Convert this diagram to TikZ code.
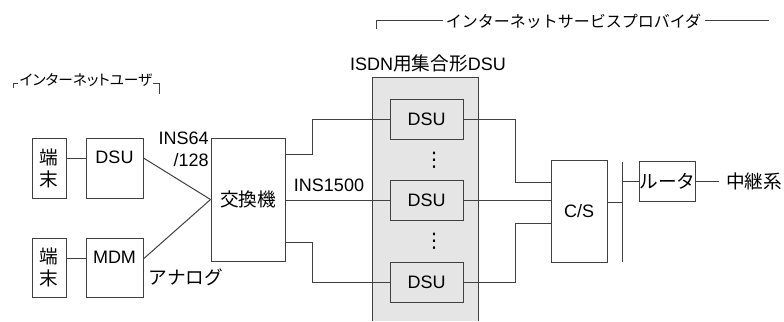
\documentclass[tikz,border=0pt]{standalone}
\usepackage{fontspec}
\setmainfont{Liberation Sans}
\newfontfamily\jpfont{Noto Sans CJK JP}
\newfontfamily\jpnarrow[RawFeature=+palt]{Noto Sans CJK JP}
\newfontfamily\symfont{DejaVu Sans}
\usetikzlibrary{positioning}

\begin{document}
\begin{tikzpicture}[
    x=0.75pt, y=-0.75pt,
    box/.style={rectangle, draw=black!75, line width=0.75pt, inner sep=0pt, align=center, font=\fontsize{13.5}{16.5}\selectfont},
    unit/.style={box, minimum width=42.75pt, minimum height=45pt, text height=10pt, text depth=16.3pt},
    term/.style={box, minimum width=25.5pt, minimum height=45pt, font=\fontsize{14}{16.5}\selectfont\jpfont},
    dsu/.style={box, fill=black!10, minimum width=54.75pt, minimum height=30pt},
    txt/.style={inner sep=0pt, align=right, font=\fontsize{13.5}{16.5}\selectfont},
    wire/.style={draw=black!75, line width=0.75pt}
]
    \useasboundingbox (0,0) rectangle (784,321);

    % Shaded block of the concentrator DSU
    \fill [black!10] (372,77) rectangle (478,321);
    \draw [wire] (372,321) -- (372,77) -- (478,77) -- (478,321);

    % Group captions
    \node (user) [txt, font=\fontsize{11}{12}\selectfont\jpnarrow] at (86,80) {インターネットユーザ};
    \draw [wire] (13,88) -- (13,83) -- (18,83);
    \draw [wire] (153,83) -- (159,83) -- (159,94);
    \node (isp) [txt, font=\fontsize{12}{14}\selectfont\jpfont] at (573.5,21) {インターネットサービスプロバイダ};
    \draw [wire] (376,29) -- (376,21) -- (443,21);
    \draw [wire] (705,21) -- (769,21);
    \node (isdn) [txt] at (428,63) {ISDN{\jpfont\fontsize{14}{16.5}\selectfont 用集合形}DSU};

    % User side nodes
    \node (term1) [term] at (49,168) {端\\末};
    \node (dsu1) [unit, right=14.25pt of term1] {DSU};
    \node (term2) [term, minimum height=44.25pt] at (49,267.5) {端\\末};
    \node (mdm) [unit, right=14.25pt of term2, minimum height=44.25pt] {MDM};
    \node (exch) [box, minimum width=55.5pt, minimum height=92.25pt, font=\fontsize{14}{16.5}\selectfont\jpfont] at (248,199.5) {交換機};

    \draw [wire] ([yshift=7.5pt]term1.east) -- ([yshift=7.5pt]dsu1.west);
    \draw [wire] ([yshift=6.5pt]term2.east) -- ([yshift=6.5pt]mdm.west);
    \draw [wire] ([yshift=7.5pt]dsu1.east) -- (exch.west);
    \draw [wire] ([yshift=6.5pt]mdm.east) -- (exch.west);

    \node (ins64) [txt, anchor=east] at (209,149) {INS64\\/128};
    \node (analog) [txt, font=\fontsize{14}{16.5}\selectfont\jpfont] at (186,277) {アナログ};

    % DSUs inside the concentrator
    \node (dsuA) [dsu] at (426.5,119) {DSU};
    \node (dsuB) [dsu] at (426.5,200.5) {DSU};
    \node (dsuC) [dsu] at (426.5,282) {DSU};
    \node (dotsA) [txt, font=\fontsize{15}{16}\symfont] at (434,160) {⋮};
    \node (dotsB) [txt, font=\fontsize{15}{16}\symfont] at (434,241) {⋮};

    \node (ins1500) [txt] at (329,185) {INS1500};

    \draw [wire] ([yshift=33.4pt]exch.east) -- ++(27,0) |- (dsuA.west);
    \draw [wire] (exch.east |- dsuB.west) -- (dsuB.west);
    \draw [wire] ([yshift=-32pt]exch.east) -- ++(27,0) |- (dsuC.west);

    % Provider side nodes
    \node (cs) [box, minimum width=42pt, minimum height=76.5pt] at (579,211) {C/S};
    \node (router) [box, minimum width=39.75pt, minimum height=30pt, font=\fontsize{14}{16.5}\selectfont\jpfont] at (667.5,181) {ルータ};
    \node (relay) [txt, anchor=west, font=\fontsize{14}{16.5}\selectfont\jpfont] at (726,181) {中継系};
    \coordinate (busT) at (622,162);
    \coordinate (busB) at (622,262);
    \coordinate (csOut) at ([yshift=6.75pt]cs.east);

    \draw [wire] (dsuA.east) -- ++(52,0) |- ([yshift=21.75pt]cs.west);
    \draw [wire] (dsuB.east) -- (cs.west |- dsuB.east);
    \draw [wire] (dsuC.east) -- ++(52,0) |- ([yshift=-9pt]cs.west);

    \draw [wire] (busT) -- (busB);
    \draw [wire] (csOut) -- (busT |- csOut);
    \draw [wire] (router.west) -- (router.west -| busT);
    \draw [wire] (router.east) -- ([xshift=-5pt]relay.west);

\end{tikzpicture}
\end{document}
